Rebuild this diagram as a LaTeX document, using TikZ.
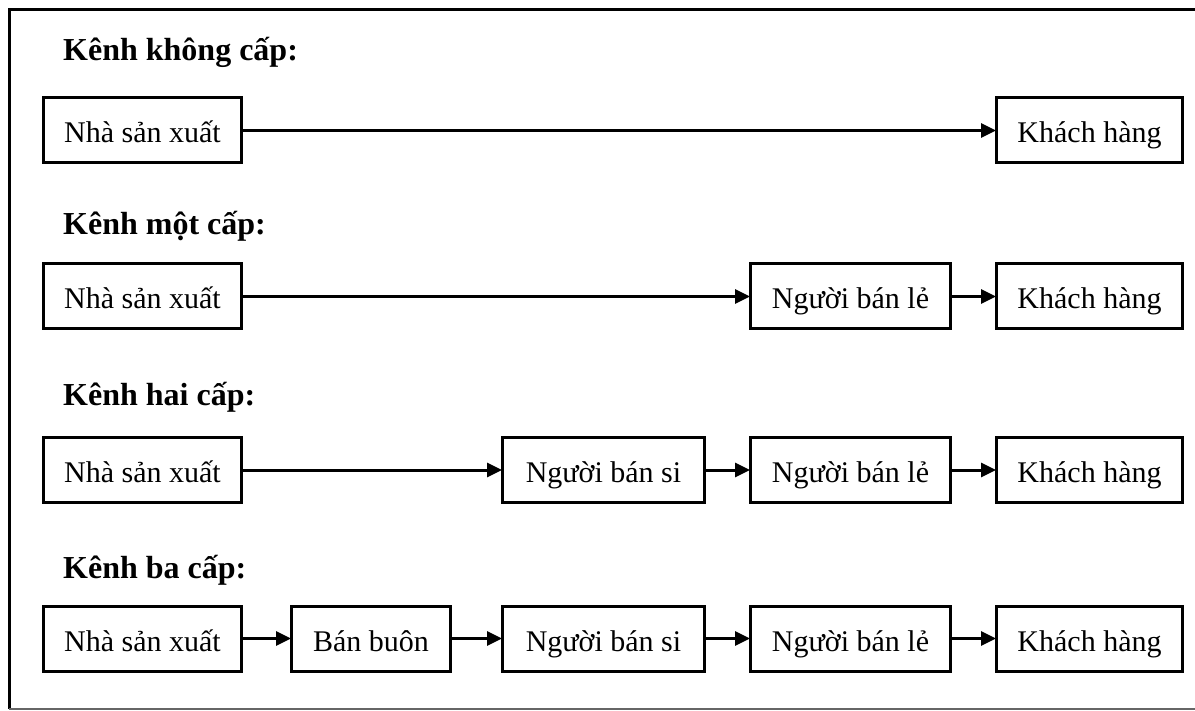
\documentclass[tikz,border=0pt]{standalone}
\usepackage{fontspec}
\setmainfont{Liberation Serif}
\usetikzlibrary{arrows.meta}
\begin{document}
\begin{tikzpicture}[x=1pt,y=-1pt,
  stagebox/.style={draw, line width=3pt, minimum height=65pt, inner sep=0pt,
    text height=30pt, text depth=5pt,
    font=\fontsize{30}{36}\selectfont},
  heading/.style={anchor=base west, inner sep=0pt,
    font=\fontsize{32}{38}\selectfont\bfseries},
  flow/.style={line width=3pt, -{Triangle[length=15pt,width=14pt]}, shorten >=-1pt}]
  \useasboundingbox (0,0) rectangle (1195,711);
  % frame: top and left edges dark, bottom edge light
  \coordinate (ftr) at (1195,9.5);
  \coordinate (ftl) at (9,9.5);
  \coordinate (fbl) at (9,709);
  \coordinate (fbr) at (1195,709);
  \draw[line width=3pt] (ftr) -- (ftl) -- (fbl);
  \draw[line width=1.2pt, black!60] (fbl) -- (fbr);

  % headings
  \node[heading] (h1) at (63,61) {Kênh không cấp:};
  \node[heading] (h2) at (63,235) {Kênh một cấp:};
  \node[heading] (h3) at (63,406) {Kênh hai cấp:};
  \node[heading] (h4) at (63,578) {Kênh ba cấp:};

  % zero-level channel
  \node[stagebox, minimum width=198pt] (a1) at (142.5,130.5) {Nhà sản xuất};
  \node[stagebox, minimum width=186pt] (a5) at (1089.5,130.5) {Khách hàng};
  \draw[flow] (a1) -- (a5);

  % one-level channel
  \node[stagebox, minimum width=198pt] (b1) at (142.5,296.5) {Nhà sản xuất};
  \node[stagebox, minimum width=200pt] (b4) at (850.5,296.5) {Người bán lẻ};
  \node[stagebox, minimum width=186pt] (b5) at (1089.5,296.5) {Khách hàng};
  \draw[flow] (b1) -- (b4);
  \draw[flow] (b4) -- (b5);

  % two-level channel
  \node[stagebox, minimum width=198pt] (c1) at (142.5,470) {Nhà sản xuất};
  \node[stagebox, minimum width=202pt] (c3) at (603.5,470) {Người bán si};
  \node[stagebox, minimum width=200pt] (c4) at (850.5,470) {Người bán lẻ};
  \node[stagebox, minimum width=186pt] (c5) at (1089.5,470) {Khách hàng};
  \draw[flow] (c1) -- (c3);
  \draw[flow] (c3) -- (c4);
  \draw[flow] (c4) -- (c5);

  % three-level channel
  \node[stagebox, minimum width=198pt] (d1) at (142.5,638.5) {Nhà sản xuất};
  \node[stagebox, minimum width=159pt] (d2) at (371,638.5) {Bán buôn};
  \node[stagebox, minimum width=202pt] (d3) at (603.5,638.5) {Người bán si};
  \node[stagebox, minimum width=200pt] (d4) at (850.5,638.5) {Người bán lẻ};
  \node[stagebox, minimum width=186pt] (d5) at (1089.5,638.5) {Khách hàng};
  \draw[flow] (d1) -- (d2);
  \draw[flow] (d2) -- (d3);
  \draw[flow] (d3) -- (d4);
  \draw[flow] (d4) -- (d5);
\end{tikzpicture}
\end{document}
